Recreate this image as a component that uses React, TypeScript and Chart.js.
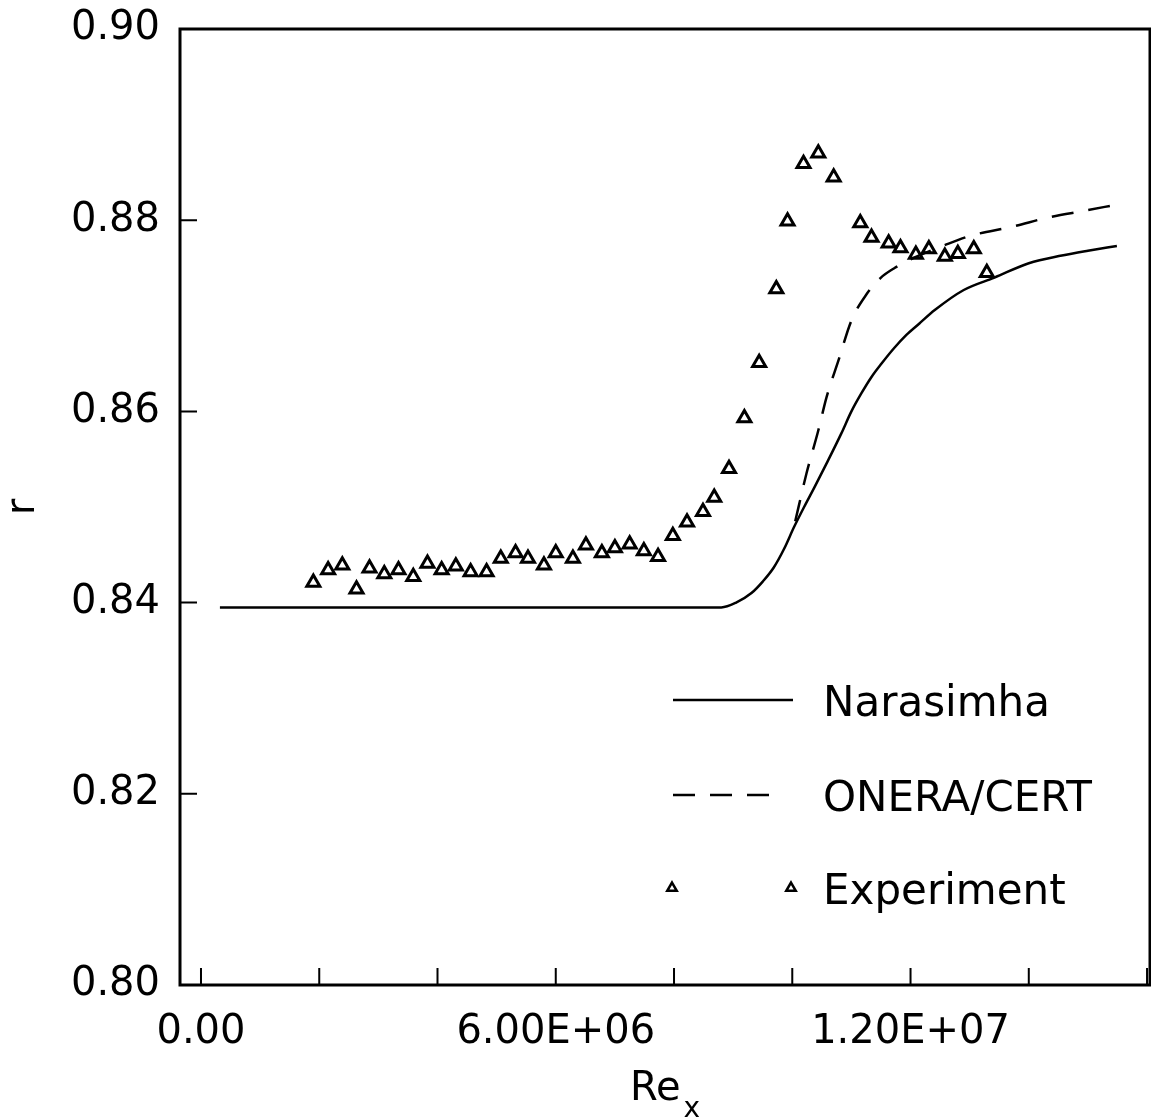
import React, { useEffect, useRef } from "react";
import { Chart, registerables } from "chart.js";

Chart.register(...registerables);

// ---- Data ----
const NARASIMHA_X = [0.32e6, 8.8e6, 9.05e6, 9.31e6, 9.5e6, 9.69e6, 9.86e6, 10.03e6, 10.2e6, 10.37e6, 10.6e6, 10.83e6, 11.0e6, 11.17e6, 11.34e6, 11.51e6, 11.72e6, 11.93e6, 12.15e6, 12.41e6, 12.9e6, 13.42e6, 14.0e6, 14.56e6, 15.0e6, 15.49e6];
const NARASIMHA_R = [0.8395, 0.8395, 0.84, 0.841, 0.8422, 0.8437, 0.8456, 0.8479, 0.85, 0.852, 0.8548, 0.8577, 0.86, 0.8619, 0.8636, 0.865, 0.8666, 0.868, 0.8692, 0.8706, 0.8727, 0.874, 0.8755, 0.8763, 0.8768, 0.8773];

const ONERA_X = [10.05e6, 10.24e6, 10.44e6, 10.58e6, 10.78e6, 11.0e6, 11.25e6, 11.5e6, 11.73e6, 12.07e6, 12.58e6, 13.03e6, 13.71e6, 14.34e6, 14.95e6, 15.46e6];
const ONERA_R = [0.8485, 0.8535, 0.858, 0.8615, 0.8653, 0.8695, 0.8722, 0.874, 0.875, 0.8761, 0.8774, 0.8784, 0.8793, 0.8803, 0.881, 0.8816];

const EXP_X = [1.9e6, 2.15e6, 2.39e6, 2.63e6, 2.85e6, 3.1e6, 3.34e6, 3.59e6, 3.83e6, 4.07e6, 4.31e6, 4.56e6, 4.83e6, 5.07e6, 5.32e6, 5.53e6, 5.8e6, 6.0e6, 6.29e6, 6.51e6, 6.78e6, 7.0e6, 7.25e6, 7.49e6, 7.73e6, 7.98e6, 8.22e6, 8.49e6, 8.68e6, 8.93e6, 9.19e6, 9.44e6, 9.73e6, 9.92e6, 10.19e6, 10.44e6, 10.7e6, 11.15e6, 11.34e6, 11.63e6, 11.83e6, 12.09e6, 12.31e6, 12.58e6, 12.8e6, 13.07e6, 13.29e6];
const EXP_R = [0.8421, 0.8434, 0.8439, 0.8414, 0.8436, 0.843, 0.8434, 0.8427, 0.8441, 0.8434, 0.8438, 0.8432, 0.8432, 0.8446, 0.8452, 0.8446, 0.8439, 0.8452, 0.8446, 0.846, 0.8452, 0.8457, 0.8461, 0.8454, 0.8448, 0.847, 0.8484, 0.8495, 0.851, 0.854, 0.8593, 0.8651, 0.8728, 0.8799, 0.8859, 0.887, 0.8845, 0.8797, 0.8782, 0.8776, 0.8771, 0.8764, 0.877, 0.8762, 0.8765, 0.877, 0.8745];

const SERIES_NAMES = ["Narasimha", "ONERA/CERT", "Experiment"];
const X_TICKS = [0, 2e6, 4e6, 6e6, 8e6, 10e6, 12e6, 14e6, 16e6];
const X_LABELED_TICKS = [0, 6e6, 12e6];
const X_TICK_LABELS = ["0.00", "6.00E+06", "1.20E+07"];
const Y_TICK_LABELS = ["0.80", "0.82", "0.84", "0.86", "0.88", "0.90"];
const X_TITLE = "Re";
const X_TITLE_SUB = "x";
const Y_TITLE = "r";

const FONT = "'DejaVu Sans', sans-serif";
const DASH = [22, 15];

function toPoints(xs: number[], ys: number[]) {
  return xs.map((x, i) => ({ x, y: ys[i] }));
}

function drawTriangle(ctx: CanvasRenderingContext2D, x: number, y: number, r: number) {
  ctx.beginPath();
  for (let k = 0; k < 3; k++) {
    const a = (k * 2 * Math.PI) / 3;
    const px = x + Math.sin(a) * r;
    const py = y - Math.cos(a) * r;
    if (k === 0) ctx.moveTo(px, py);
    else ctx.lineTo(px, py);
  }
  ctx.closePath();
  ctx.stroke();
}

const axisDecor = {
  id: "axisDecor",
  afterDraw(chart: any) {
    const { ctx, chartArea: a, scales } = chart;
    const x = scales.x;
    const y = scales.y;
    ctx.save();
    ctx.strokeStyle = "#000";
    ctx.lineWidth = 2;
    ctx.beginPath();
    x.ticks.forEach((t: any) => {
      const px = x.getPixelForValue(t.value);
      ctx.moveTo(px, a.bottom);
      ctx.lineTo(px, a.bottom - 17);
    });
    y.ticks.forEach((t: any) => {
      const py = y.getPixelForValue(t.value);
      ctx.moveTo(a.left, py);
      ctx.lineTo(a.left + 17, py);
    });
    ctx.stroke();
    ctx.lineWidth = 3;
    ctx.strokeRect(a.left, a.top, a.right - a.left, a.bottom - a.top);

    // x-axis title with subscript
    ctx.fillStyle = "#000";
    ctx.textBaseline = "alphabetic";
    ctx.textAlign = "left";
    ctx.font = `40px ${FONT}`;
    const w1 = ctx.measureText(X_TITLE).width;
    ctx.font = `28px ${FONT}`;
    const w2 = ctx.measureText(X_TITLE_SUB).width;
    const gap = 3;
    const cx = (a.left + a.right) / 2;
    const start = cx - (w1 + gap + w2) / 2;
    ctx.font = `40px ${FONT}`;
    ctx.fillText(X_TITLE, start, a.bottom + 115);
    ctx.font = `28px ${FONT}`;
    ctx.fillText(X_TITLE_SUB, start + w1 + gap, a.bottom + 132);

    // legend
    const lx0 = a.left + 493;
    const lx1 = a.left + 613;
    const tx = a.left + 643;
    const rows = [a.top + 671, a.top + 766, a.top + 859];
    ctx.font = `42px ${FONT}`;
    // Narasimha
    ctx.lineWidth = 2.5;
    ctx.setLineDash([]);
    ctx.beginPath();
    ctx.moveTo(lx0, rows[0]);
    ctx.lineTo(lx1, rows[0]);
    ctx.stroke();
    ctx.fillText(SERIES_NAMES[0], tx, rows[0] + 16);
    // ONERA/CERT
    ctx.setLineDash(DASH);
    ctx.beginPath();
    ctx.moveTo(lx0, rows[1]);
    ctx.lineTo(lx1 - 20, rows[1]);
    ctx.stroke();
    ctx.setLineDash([]);
    ctx.fillText(SERIES_NAMES[1], tx, rows[1] + 16);
    // Experiment
    ctx.lineWidth = 2.5;
    drawTriangle(ctx, lx0 - 1, rows[2], 5.5);
    drawTriangle(ctx, lx1 - 2, rows[2], 5.5);
    ctx.fillText(SERIES_NAMES[2], tx, rows[2] + 16);
    ctx.restore();
  },
};

export default function App() {
  const ref = useRef<HTMLCanvasElement>(null);
  useEffect(() => {
    if (!ref.current) return;
    const chart = new Chart(ref.current, {
      type: "scatter",
      data: {
        datasets: [
          {
            label: SERIES_NAMES[0],
            data: toPoints(NARASIMHA_X, NARASIMHA_R),
            showLine: true,
            borderColor: "#000",
            borderWidth: 2.5,
            pointRadius: 0,
            cubicInterpolationMode: "monotone",
          },
          {
            label: SERIES_NAMES[1],
            data: toPoints(ONERA_X, ONERA_R),
            showLine: true,
            borderColor: "#000",
            borderWidth: 2.5,
            borderDash: DASH,
            pointRadius: 0,
            cubicInterpolationMode: "monotone",
          },
          {
            label: SERIES_NAMES[2],
            data: toPoints(EXP_X, EXP_R),
            showLine: false,
            pointStyle: "triangle",
            pointRadius: 7.5,
            pointBorderWidth: 3,
            pointBorderColor: "#000",
            pointBackgroundColor: "rgba(255,255,255,0)",
          },
        ],
      } as any,
      options: {
        responsive: false,
        animation: false,
        devicePixelRatio: 1,
        color: "#000",
        layout: { autoPadding: false, padding: { left: 0, top: 29, right: 1, bottom: 0 } },
        plugins: {
          legend: { display: false },
          tooltip: { enabled: false },
        },
        scales: {
          x: {
            type: "linear",
            min: -0.355e6,
            max: 16.05e6,
            grid: { display: false, drawTicks: false },
            border: { display: false },
            afterBuildTicks: (s: any) => {
              s.ticks = X_TICKS.map((v) => ({ value: v }));
            },
            ticks: {
              autoSkip: false,
              maxRotation: 0,
              minRotation: 0,
              padding: 24,
              color: "#000",
              font: { family: FONT, size: 40 },
              callback: (v: any) => {
                const i = X_LABELED_TICKS.findIndex((t) => Math.abs(t - Number(v)) < 1);
                return i >= 0 ? X_TICK_LABELS[i] : "";
              },
            },
            afterFit: (s: any) => {
              s.height = 134;
              s.paddingLeft = 0;
              s.paddingRight = 0;
            },
          },
          y: {
            type: "linear",
            min: 0.8,
            max: 0.9,
            grid: { display: false, drawTicks: false },
            border: { display: false },
            title: {
              display: true,
              text: Y_TITLE,
              color: "#000",
              font: { family: FONT, size: 40, lineHeight: 1 },
              padding: { top: 4, bottom: 0 },
            },
            ticks: {
              stepSize: 0.02,
              autoSkip: false,
              padding: 20,
              color: "#000",
              font: { family: FONT, size: 40 },
              callback: (v: any) => {
                const i = Math.round((Number(v) - 0.8) / 0.02);
                return Y_TICK_LABELS[i] ?? "";
              },
            },
            afterFit: (s: any) => {
              s.width = 180;
              s.paddingTop = 0;
              s.paddingBottom = 0;
            },
          },
        },
      } as any,
      plugins: [axisDecor],
    });
    return () => chart.destroy();
  }, []);
  return (
    <div style={{ position: "absolute", left: 0, top: 0, width: 1151, height: 1119, background: "#fff" }}>
      <canvas ref={ref} width={1151} height={1119} style={{ width: 1151, height: 1119, display: "block" }} />
    </div>
  );
}
